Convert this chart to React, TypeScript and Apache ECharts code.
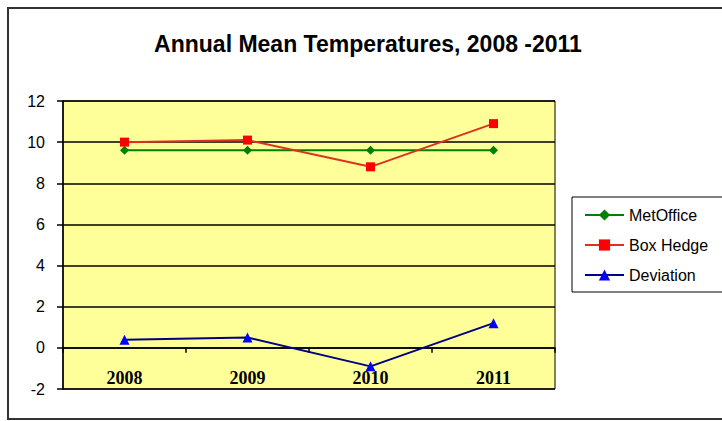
import React, { useEffect, useRef } from 'react';
import * as echarts from 'echarts';

const chartTitle = 'Annual Mean Temperatures, 2008 -2011';
const years = ['2008', '2009', '2010', '2011'];
const metOffice = [9.6, 9.6, 9.6, 9.6];
const boxHedge = [10.0, 10.1, 8.8, 10.9];
const deviation = [0.4, 0.5, -0.9, 1.2];
const yMin = -2;
const yMax = 12;
const yInterval = 2;

export default function App() {
  const ref = useRef<HTMLDivElement>(null);
  useEffect(() => {
    document.body.style.margin = '0';
    const chart = echarts.init(ref.current!, null, { renderer: 'svg' });
    chart.setOption({
      animation: false,
      backgroundColor: '#ffffff',
      graphic: [
        {
          type: 'rect',
          shape: { x: 8, y: 8, width: 730, height: 411 },
          style: { fill: 'none', stroke: '#333', lineWidth: 2 },
          z: 10,
        },
        {
          type: 'text',
          x: 368,
          y: 44,
          style: {
            text: chartTitle,
            fontSize: 23,
            fontWeight: 'bold',
            fontFamily: 'Liberation Sans, Arial',
            fill: '#000',
            align: 'center',
            verticalAlign: 'middle',
          },
        },
        {
          type: 'rect',
          shape: { x: 572, y: 197, width: 160, height: 95 },
          style: { fill: 'none', stroke: '#000', lineWidth: 1 },
          z: 10,
        },
      ],
      grid: {
        left: 63,
        right: 167,
        top: 101,
        bottom: 32,
        show: true,
        backgroundColor: '#FFFF99',
        borderColor: '#000',
        borderWidth: 1,
        outerBoundsMode: 'none',
        containLabel: false,
      },
      legend: {
        orient: 'vertical',
        left: 579,
        top: 202,
        itemWidth: 39,
        itemHeight: 14,
        itemGap: 14,
        textStyle: { fontSize: 16, fontFamily: 'Liberation Sans, Arial', color: '#000' },
        data: ['MetOffice', 'Box Hedge', 'Deviation'],
      },
      xAxis: {
        type: 'category',
        data: years,
        boundaryGap: true,
        axisLine: { onZero: true, lineStyle: { color: '#000', width: 1.5 } },
        axisTick: { show: true, length: 5, lineStyle: { color: '#000', width: 1.5 } },
        axisLabel: {
          margin: -20,
          fontSize: 18,
          fontWeight: 'bold',
          fontFamily: 'Liberation Serif, Times New Roman, serif',
          color: '#000',
        },
        splitLine: { show: false },
      },
      yAxis: {
        type: 'value',
        min: yMin,
        max: yMax,
        interval: yInterval,
        axisLine: { show: true, lineStyle: { color: '#000', width: 1.5 } },
        axisTick: { show: true, length: 6, lineStyle: { color: '#000', width: 1.5 } },
        axisLabel: {
          margin: 18,
          fontSize: 16,
          fontFamily: 'Liberation Sans, Arial',
          color: '#000',
        },
        splitLine: { show: true, lineStyle: { color: '#000', width: 1.5 } },
      },
      series: [
        {
          name: 'MetOffice',
          type: 'line',
          data: metOffice,
          symbol: 'diamond',
          symbolSize: 9,
          lineStyle: { color: '#008000', width: 2 },
          itemStyle: { color: '#008000' },
        },
        {
          name: 'Box Hedge',
          type: 'line',
          data: boxHedge,
          symbol: 'rect',
          symbolSize: 9,
          lineStyle: { color: '#e0301e', width: 2 },
          itemStyle: { color: '#ff0000' },
        },
        {
          name: 'Deviation',
          type: 'line',
          data: deviation,
          symbol: 'triangle',
          symbolSize: 10,
          lineStyle: { color: '#000080', width: 2 },
          itemStyle: { color: '#0000ff' },
        },
      ],
    });
    return () => chart.dispose();
  }, []);
  return <div ref={ref} style={{ width: 722, height: 421 }} />;
}
